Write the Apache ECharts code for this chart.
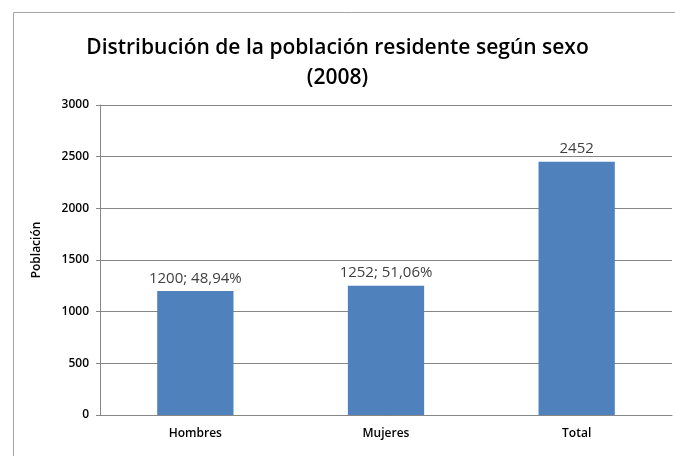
<!DOCTYPE html>
<html><head><meta charset="utf-8">
<script src="https://cdn.jsdelivr.net/npm/echarts@6/dist/echarts.min.js"></script>
<style>html,body{margin:0;padding:0;background:#fff;overflow:hidden}#c{width:675px;height:456px}</style>
</head><body><div id="c"></div>
<script>
const categories = ['Hombres', 'Mujeres', 'Total'];
const values = [1200, 1252, 2452];
const labelTexts = ['1200; 48,94%', '1252; 51,06%', '2452'];
const yTicks = [0, 500, 1000, 1500, 2000, 2500, 3000];

const chart = echarts.init(document.getElementById('c'), null, {renderer: 'canvas'});
chart.setOption({
  animation: false,
  backgroundColor: '#fff',
  graphic: [{
    type: 'polyline', shape: {points: [[13.5, 460], [13.5, 12.5], [675, 12.5]]},
    style: {fill: 'none', stroke: '#a6a6a6', lineWidth: 1}, silent: true
  }],
  title: {
    text: 'Distribución de la población residente según sexo\n(2008)',
    left: 'center', top: 28,
    textStyle: {fontFamily: 'Open Sans', fontSize: 21, fontWeight: 600, color: '#000', lineHeight: 30}
  },
  grid: {left: 100, right: 3, top: 105, bottom: 41, containLabel: false},
  xAxis: {
    type: 'category', data: categories,
    axisLine: {lineStyle: {color: '#868686'}},
    axisTick: {show: false},
    axisLabel: {fontFamily: 'Open Sans', fontSize: 12, fontWeight: 600, color: '#000', margin: 13}
  },
  yAxis: {
    type: 'value', min: yTicks[0], max: yTicks[yTicks.length - 1], interval: 500,
    name: 'Población', nameLocation: 'middle', nameGap: 57, nameRotate: 90,
    nameTextStyle: {fontFamily: 'Open Sans', fontSize: 12, fontWeight: 600, color: '#000', padding: [0, 0, 0, 20]},
    axisLine: {show: true, lineStyle: {color: '#868686'}},
    axisTick: {show: true, length: 4, lineStyle: {color: '#868686'}},
    splitLine: {lineStyle: {color: '#868686'}},
    axisLabel: {fontFamily: 'Open Sans', fontSize: 12, fontWeight: 600, color: '#000', margin: 11,
      formatter: v => String(v)}
  },
  series: [{
    type: 'bar', data: values, barWidth: '40%',
    itemStyle: {color: '#4f81bd'},
    label: {
      show: true, position: 'top', distance: 5,
      fontFamily: 'Open Sans', fontSize: 15, color: '#404040',
      formatter: p => labelTexts[p.dataIndex]
    }
  }]
});
</script></body></html>
